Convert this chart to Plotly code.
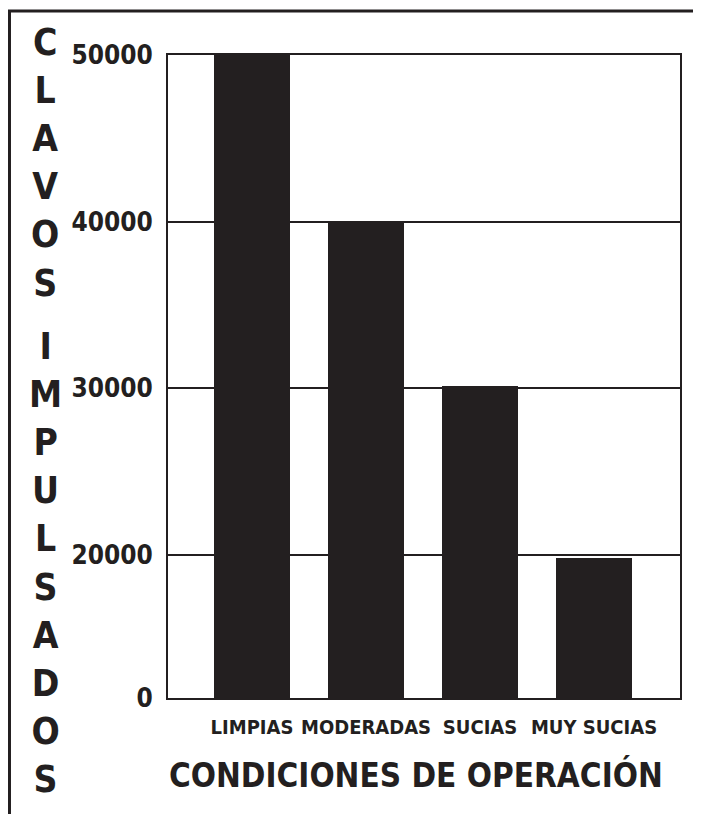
import plotly.graph_objects as go

# data
conditions = ["LIMPIAS", "MODERADAS", "SUCIAS", "MUY SUCIAS"]
nails = [50000, 39900, 30100, 19800]
axis_floor = 11400  # where the "0" label sits on the printed axis
tick_vals = [axis_floor, 20000, 30000, 40000, 50000]
tick_text = ["0", "20000", "30000", "40000", "50000"]

INK = "#231f20"
FONT = "DejaVu Sans Condensed, Liberation Sans Narrow, Arial Narrow, Arial"

fig = go.Figure()
fig.add_trace(go.Bar(x=conditions, y=nails, width=0.66,
                     marker=dict(color=INK, line=dict(width=0))))

# page body adds 8px, so the figure is trimmed by that much (no scrollbars)
fig.update_layout(width=693, height=806,
                  margin=dict(l=160, r=21, t=47, b=116, autoexpand=False),
                  paper_bgcolor="white", plot_bgcolor="white",
                  font=dict(family=FONT, color=INK, weight="bold"),
                  showlegend=False, bargap=0)

fig.update_xaxes(type="category", range=[-0.737, 3.754], automargin=False,
                 showline=True, linecolor=INK, linewidth=2, mirror=True,
                 showgrid=False, ticks="", ticklabelstandoff=10, tickangle=0,
                 tickfont=dict(family=FONT, size=20, color=INK, weight="bold"))

fig.update_yaxes(range=[axis_floor, 50000], tickvals=tick_vals, ticktext=tick_text,
                 automargin=False,
                 showline=True, linecolor=INK, linewidth=2, mirror=True,
                 showgrid=True, gridcolor=INK, gridwidth=2,
                 ticks="", ticklabelstandoff=8, zeroline=False,
                 tickfont=dict(family=FONT, size=26, color=INK, weight="bold"))

# stacked vertical y title, split in two words
fig.add_annotation(text="<br>".join("CLAVOS"), xref="paper", yref="paper",
                   x=-0.2402, y=0.8328, showarrow=False, xanchor="center", yanchor="middle",
                   font=dict(family=FONT, size=37, color=INK, weight="bold"))
fig.add_annotation(text="<br>".join("IMPULSADOS"), xref="paper", yref="paper",
                   x=-0.2402, y=0.2107, showarrow=False, xanchor="center", yanchor="middle",
                   font=dict(family=FONT, size=37, color=INK, weight="bold"))

fig.add_annotation(text="CONDICIONES DE OPERACIÓN", xref="paper", yref="paper",
                   x=0.484, y=-0.1198, showarrow=False, xanchor="center", yanchor="middle",
                   font=dict(family=FONT, size=33, color=INK, weight="bold"))

# outer frame around the whole figure
fig.add_shape(type="rect", xref="paper", yref="paper",
              x0=-0.3096, y0=-0.21, x1=1.08, y1=1.0684,
              line=dict(color=INK, width=3), fillcolor="rgba(0,0,0,0)", layer="above")

fig.write_html("out.html")
